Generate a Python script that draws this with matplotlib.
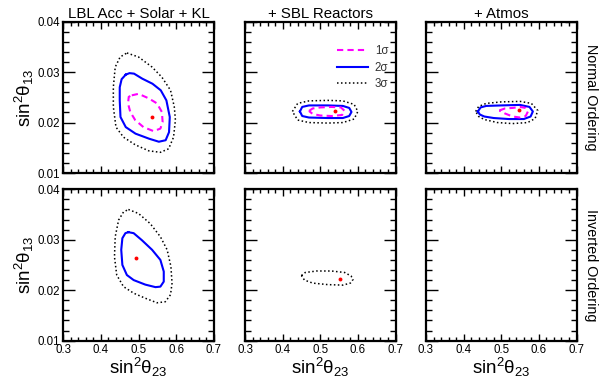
import matplotlib
matplotlib.use("Agg")
import matplotlib.pyplot as plt
import numpy as np
from matplotlib.ticker import MultipleLocator

plt.rcParams['font.family'] = ['Liberation Sans', 'DejaVu Sans']
plt.rcParams['mathtext.fontset'] = 'custom'
plt.rcParams['mathtext.rm'] = 'Liberation Sans'
plt.rcParams['mathtext.it'] = 'Liberation Sans'

# ---------------- data (sin^2 theta23, sin^2 theta13) ----------------
col_titles = ["LBL Acc + Solar + KL", "+ SBL Reactors", "+ Atmos"]
row_titles = ["Normal Ordering", "Inverted Ordering"]
x_ticks = [0.3, 0.4, 0.5, 0.6, 0.7]
y_ticks = [0.01, 0.02, 0.03, 0.04]

# Normal ordering, LBL Acc + Solar + KL
no1_best = (0.536, 0.0212)
no1_1s_x = [0.482, 0.500, 0.527, 0.549, 0.562, 0.564, 0.558, 0.540, 0.513, 0.491, 0.478, 0.472, 0.474]
no1_1s_y = [0.0254, 0.0257, 0.0248, 0.0238, 0.0221, 0.0201, 0.0188, 0.0183, 0.0191, 0.0205, 0.0221, 0.0238, 0.0251]
no1_2s_x = [0.466, 0.476, 0.488, 0.510, 0.537, 0.559, 0.574, 0.583, 0.581, 0.572, 0.554, 0.528, 0.492, 0.466, 0.452, 0.450, 0.450, 0.455]
no1_2s_y = [0.0295, 0.0298, 0.0297, 0.0287, 0.0277, 0.0264, 0.0244, 0.0211, 0.0181, 0.0165, 0.0162, 0.0168, 0.0178, 0.0191, 0.0211, 0.0244, 0.0270, 0.0286]
no1_3s_x = [0.469, 0.500, 0.536, 0.562, 0.585, 0.595, 0.598, 0.593, 0.580, 0.558, 0.527, 0.491, 0.460, 0.440, 0.433, 0.433, 0.438, 0.451]
no1_3s_y = [0.0338, 0.0330, 0.0310, 0.0290, 0.0264, 0.0231, 0.0205, 0.0171, 0.0148, 0.0141, 0.0144, 0.0156, 0.0171, 0.0191, 0.0231, 0.0270, 0.0310, 0.0330]

# Normal ordering, + SBL Reactors
no2_best = (0.538, 0.0223)
no2_1s_x = [0.470, 0.480, 0.500, 0.530, 0.555, 0.565, 0.558, 0.530, 0.500, 0.480]
no2_1s_y = [0.0223, 0.0228, 0.0230, 0.0231, 0.0230, 0.0223, 0.0215, 0.0213, 0.0214, 0.0217]
no2_2s_x = [0.446, 0.452, 0.470, 0.520, 0.560, 0.577, 0.583, 0.577, 0.560, 0.520, 0.470, 0.452]
no2_2s_y = [0.0222, 0.0231, 0.0234, 0.0234, 0.0233, 0.0229, 0.0221, 0.0213, 0.0209, 0.0209, 0.0210, 0.0213]
no2_3s_x = [0.426, 0.440, 0.470, 0.520, 0.560, 0.590, 0.600, 0.590, 0.560, 0.520, 0.470, 0.440]
no2_3s_y = [0.0222, 0.0238, 0.0243, 0.0244, 0.0243, 0.0236, 0.0222, 0.0207, 0.0200, 0.0199, 0.0200, 0.0205]

# Normal ordering, + Atmos
no3_best = (0.546, 0.0224)
no3_1s_x = [0.495, 0.510, 0.530, 0.550, 0.565, 0.571, 0.565, 0.550, 0.530, 0.510]
no3_1s_y = [0.0224, 0.0228, 0.0229, 0.0231, 0.0229, 0.0222, 0.0213, 0.0210, 0.0212, 0.0218]
no3_2s_x = [0.438, 0.445, 0.460, 0.500, 0.550, 0.575, 0.584, 0.578, 0.560, 0.520, 0.480, 0.455, 0.443]
no3_2s_y = [0.0222, 0.0230, 0.0233, 0.0234, 0.0235, 0.0231, 0.0222, 0.0212, 0.0207, 0.0207, 0.0209, 0.0212, 0.0216]
no3_3s_x = [0.432, 0.440, 0.460, 0.500, 0.550, 0.580, 0.597, 0.590, 0.570, 0.530, 0.490, 0.455, 0.440]
no3_3s_y = [0.0222, 0.0232, 0.0238, 0.0241, 0.0242, 0.0238, 0.0224, 0.0208, 0.0200, 0.0198, 0.0200, 0.0206, 0.0212]

# Inverted ordering, LBL Acc + Solar + KL
io1_best = (0.493, 0.0263)
io1_2s_x = [0.473, 0.487, 0.509, 0.536, 0.558, 0.567, 0.567, 0.558, 0.545, 0.518, 0.487, 0.469, 0.457, 0.454, 0.457, 0.465]
io1_2s_y = [0.0315, 0.0313, 0.0299, 0.0280, 0.0260, 0.0237, 0.0217, 0.0207, 0.0206, 0.0211, 0.0220, 0.0230, 0.0250, 0.0280, 0.0303, 0.0313]
io1_3s_x = [0.473, 0.500, 0.531, 0.558, 0.576, 0.586, 0.589, 0.585, 0.571, 0.549, 0.518, 0.487, 0.460, 0.442, 0.436, 0.438, 0.447, 0.460]
io1_3s_y = [0.0360, 0.0352, 0.0332, 0.0306, 0.0280, 0.0247, 0.0214, 0.0191, 0.0177, 0.0175, 0.0184, 0.0194, 0.0207, 0.0230, 0.0266, 0.0306, 0.0339, 0.0355]

# Inverted ordering, + SBL Reactors
io2_best = (0.552, 0.0222)
io2_3s_x = [0.450, 0.460, 0.490, 0.530, 0.565, 0.582, 0.587, 0.580, 0.560, 0.520, 0.480, 0.458]
io2_3s_y = [0.0229, 0.0235, 0.0238, 0.0238, 0.0235, 0.0228, 0.0221, 0.0214, 0.0210, 0.0211, 0.0214, 0.0220]

panels = {
    (0, 0): dict(best=no1_best, s1=(no1_1s_x, no1_1s_y), s2=(no1_2s_x, no1_2s_y), s3=(no1_3s_x, no1_3s_y)),
    (0, 1): dict(best=no2_best, s1=(no2_1s_x, no2_1s_y), s2=(no2_2s_x, no2_2s_y), s3=(no2_3s_x, no2_3s_y)),
    (0, 2): dict(best=no3_best, s1=(no3_1s_x, no3_1s_y), s2=(no3_2s_x, no3_2s_y), s3=(no3_3s_x, no3_3s_y)),
    (1, 0): dict(best=io1_best, s2=(io1_2s_x, io1_2s_y), s3=(io1_3s_x, io1_3s_y)),
    (1, 1): dict(best=io2_best, s3=(io2_3s_x, io2_3s_y)),
    (1, 2): dict(),
}

# ---------------- figure ----------------
W, H = 613, 382
fig = plt.figure(figsize=(W / 100, H / 100), dpi=100)

lefts = [63.3, 245.0, 426.0]
tops = [21.7, 189.3]
pw, ph = 150.5, 151.3

styles = {
    's1': dict(color='#ff00ff', lw=1.5, ls=(0, (3.0, 2.0)), label='1σ'),
    's2': dict(color='#0000ff', lw=1.5, ls='-', label='2σ'),
    's3': dict(color='black', lw=1.1, ls=(0, (1.0, 1.6)), label='3σ'),
}

def closed(xs, ys):
    return list(xs) + [xs[0]], list(ys) + [ys[0]]

axes = {}
for r in range(2):
    for c in range(3):
        ax = fig.add_axes([lefts[c] / W, 1 - (tops[r] + ph) / H, pw / W, ph / H])
        axes[(r, c)] = ax
        d = panels[(r, c)]
        for key in ['s3', 's2', 's1']:
            if key in d:
                xs, ys = closed(*d[key])
                st = styles[key]
                ax.plot(xs, ys, color=st['color'], lw=st['lw'], ls=st['ls'],
                        label=st['label'], solid_joinstyle='round', dash_joinstyle='round')
        if 'best' in d:
            ax.plot([d['best'][0]], [d['best'][1]], 'o', color='red', ms=2.8, mew=0)
        ax.set_xlim(0.3, 0.7)
        ax.set_ylim(0.01, 0.04)
        ax.xaxis.set_major_locator(MultipleLocator(0.1))
        ax.xaxis.set_minor_locator(MultipleLocator(0.02))
        ax.yaxis.set_major_locator(MultipleLocator(0.01))
        ax.yaxis.set_minor_locator(MultipleLocator(0.002))
        ax.tick_params(axis='both', which='both', direction='in', top=True, right=True,
                       labelsize=8.3, pad=2.5)
        ax.tick_params(axis='x', which='major', length=5.0, width=1.0)
        ax.tick_params(axis='x', which='minor', length=2.6, width=1.0)
        ax.tick_params(axis='y', which='major', length=8.5, width=1.0)
        ax.tick_params(axis='y', which='minor', length=4.2, width=1.0)
        for sp in ax.spines.values():
            sp.set_linewidth(1.6)
        ax.set_xticks(x_ticks)
        ax.set_yticks(y_ticks)
        if r == 1:
            ax.set_xticklabels(['%.1f' % v for v in x_ticks])
            ax.set_xlabel(r'sin$^2\theta_{23}$', fontsize=13.5, labelpad=0)
        else:
            ax.set_xticklabels([])
        if c == 0:
            ax.set_yticklabels(['%.2f' % v for v in y_ticks])
            ax.set_ylabel(r'sin$^2\theta_{13}$', fontsize=13.5, labelpad=1)
        else:
            ax.set_yticklabels([])
        if r == 0:
            ax.set_title(col_titles[c], fontsize=10.8, pad=3)
        if c == 2:
            ax.text(1.095, 0.5, row_titles[r], transform=ax.transAxes, rotation=-90,
                    ha='center', va='center', fontsize=10.4)

ax2 = axes[(0, 1)]
leg = ax2.legend(handles=[ax2.lines[2], ax2.lines[1], ax2.lines[0]],
                 loc='upper left', bbox_to_anchor=(0.61, 0.845), frameon=False,
                 fontsize=8.3, handlelength=2.7, handletextpad=0.6, labelspacing=0.4,
                 borderpad=0, borderaxespad=0)
for t in leg.get_texts():
    t.set_color('#333333')

fig.savefig('out.png', dpi=100)
